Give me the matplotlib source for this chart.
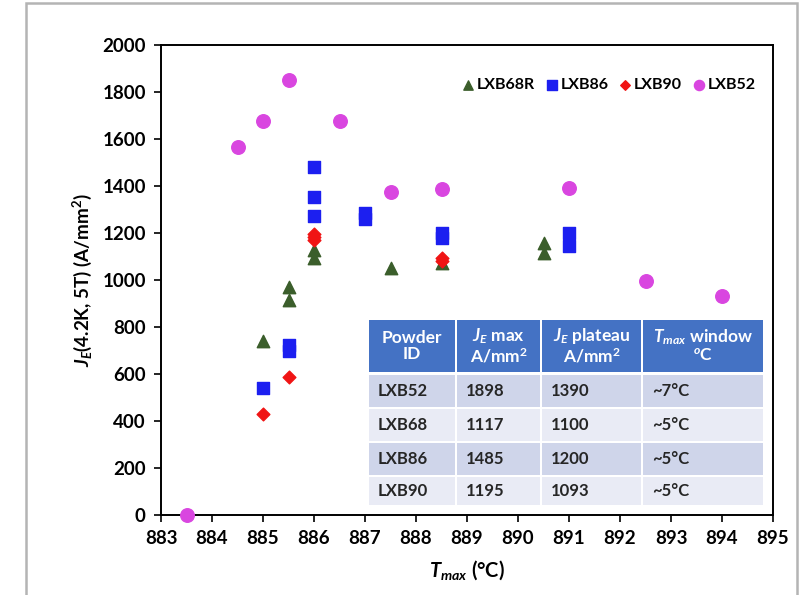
import numpy as np
import matplotlib
matplotlib.use("Agg")
import matplotlib.pyplot as plt
from matplotlib.patches import Rectangle

plt.rcParams["font.family"] = ["Lato", "DejaVu Sans"]
plt.rcParams["font.weight"] = "bold"
plt.rcParams["mathtext.fontset"] = "custom"
plt.rcParams["mathtext.rm"] = "Lato:bold"
plt.rcParams["mathtext.it"] = "Lato:bold:italic"
plt.rcParams["mathtext.bf"] = "Lato:bold"

# data
lxb68r_t = [885.0, 885.5, 885.5, 886.0, 886.0, 887.5, 888.5, 890.5, 890.5]
lxb68r_j = [740, 972, 915, 1128, 1095, 1050, 1072, 1158, 1115]

lxb86_t = [885.0, 885.5, 885.5, 886.0, 886.0, 886.0, 887.0, 887.0, 888.5, 888.5, 891.0, 891.0]
lxb86_j = [540, 725, 700, 1482, 1354, 1272, 1284, 1260, 1200, 1180, 1200, 1145]

lxb90_t = [885.0, 885.5, 886.0, 886.0, 886.0, 888.5, 888.5]
lxb90_j = [430, 587, 1197, 1185, 1170, 1093, 1082]

lxb52_t = [883.5, 884.5, 885.0, 885.5, 886.5, 887.5, 888.5, 891.0, 892.5, 894.0]
lxb52_j = [0, 1565, 1677, 1851, 1677, 1374, 1388, 1390, 995, 930]

table_header = ["Powder\nID", "$J_E$ max\nA/mm$^2$", "$J_E$ plateau\nA/mm$^2$", "$T_{max}$ window\n$^o$C"]
table_rows = [
    ["LXB52", "1898", "1390", "~7°C"],
    ["LXB68", "1117", "1100", "~5°C"],
    ["LXB86", "1485", "1200", "~5°C"],
    ["LXB90", "1195", "1093", "~5°C"],
]

fig = plt.figure(figsize=(8.03, 5.95), dpi=100)
ax = fig.add_axes([161 / 803, 1 - 515 / 595, 612 / 803, 470 / 595])

# grey outer frame of the picture
fig.patches.append(Rectangle((26 / 803, -0.05), 771 / 803, 1.0 - 3 / 595 + 0.05,
                             transform=fig.transFigure, fill=False,
                             edgecolor="#b4b4b4", linewidth=1.8, clip_on=False))

ax.scatter(lxb68r_t, lxb68r_j, marker="^", s=80, color="#3b5e2b", label="LXB68R", zorder=3)
ax.scatter(lxb86_t, lxb86_j, marker="s", s=85, color="#1c1ff0", label="LXB86", zorder=3)
ax.scatter(lxb90_t, lxb90_j, marker="D", s=42, color="#f01414", label="LXB90", zorder=3)
ax.scatter(lxb52_t, lxb52_j, marker="o", s=95, color="#d946e0", label="LXB52", zorder=4,
           clip_on=False)

ax.set_xlim(883, 895)
ax.set_ylim(0, 2000)
ax.set_xticks(np.arange(883, 896, 1))
ax.set_yticks(np.arange(0, 2001, 200))
ax.tick_params(axis="both", direction="out", length=5, width=1.2, labelsize=13.5, pad=6)
for lab in ax.get_xticklabels() + ax.get_yticklabels():
    lab.set_fontweight("bold")
for sp in ax.spines.values():
    sp.set_linewidth(1.4)

ax.set_xlabel("$T_{max}$ (°C)", fontsize=14.5, fontweight="bold", labelpad=8)
ax.set_ylabel("$J_E$(4.2K, 5T) (A/mm$^2$)", fontsize=13.5, fontweight="bold", labelpad=6)

leg = ax.legend(loc="upper right", ncol=4, frameon=False, bbox_to_anchor=(0.995, 0.96),
                handlelength=0.7, handletextpad=0.2, columnspacing=0.7, markerscale=0.75,
                prop={"weight": "bold", "size": 11.5})

# inset table
def fx(px):
    return (px - 161) / 612.0

def fy(py):
    return (515 - py) / 470.0

col_edges = [368, 456, 541, 642, 764]
row_edges = [(320, 372), (375, 407), (409, 441), (443, 475), (477, 505)]
row_colors = ["#cfd5ea", "#e9ebf5", "#cfd5ea", "#e9ebf5"]

for c in range(4):
    x0, x1 = col_edges[c] + 1, col_edges[c + 1] - 1
    top, bot = row_edges[0]
    ax.add_patch(Rectangle((fx(x0), fy(bot)), fx(x1) - fx(x0), fy(top) - fy(bot),
                           transform=ax.transAxes, facecolor="#4472c4", edgecolor="none", zorder=5))
    ax.text(fx((x0 + x1) / 2), fy((top + bot) / 2), table_header[c], transform=ax.transAxes,
            ha="center", va="center", color="white", fontsize=12.5, fontweight="bold",
            linespacing=1.05, zorder=6)
    for r in range(4):
        top, bot = row_edges[r + 1]
        ax.add_patch(Rectangle((fx(x0), fy(bot)), fx(x1) - fx(x0), fy(top) - fy(bot),
                               transform=ax.transAxes, facecolor=row_colors[r],
                               edgecolor="none", zorder=5))
        ax.text(fx(x0 + 9), fy((top + bot) / 2), table_rows[r][c], transform=ax.transAxes,
                ha="left", va="center", color="#262626", fontsize=12, fontweight="bold", zorder=6)

fig.savefig("out.png", dpi=100)
